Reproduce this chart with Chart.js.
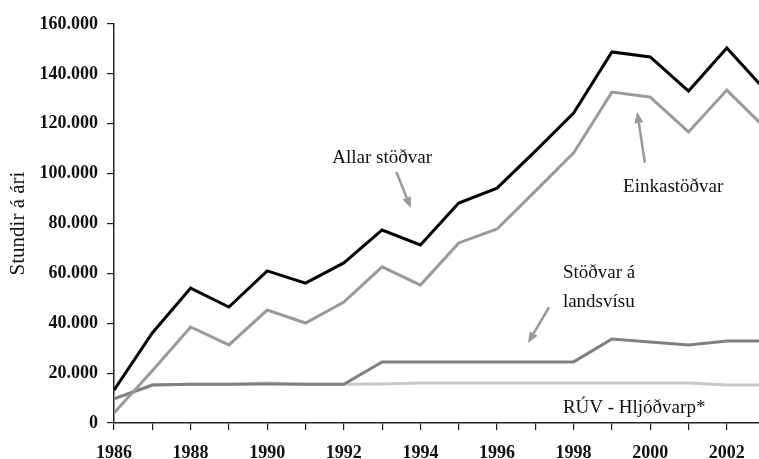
<!DOCTYPE html>
<html>
<head>
<meta charset="utf-8">
<script src="https://cdn.jsdelivr.net/npm/chart.js@4/dist/chart.umd.min.js"></script>
<style>
  html, body { margin: 0; padding: 0; background: #fff; overflow: hidden; }
  #wrap { width: 759px; height: 459px; position: relative; }
</style>
</head>
<body>
<div id="wrap"><canvas id="c" width="759" height="459"></canvas></div>
<script>
// ---- data ----
const years = [1986,1987,1988,1989,1990,1991,1992,1993,1994,1995,1996,1997,1998,1999,2000,2001,2002,2003];
const allarStodvar = [13200,36100,54100,46500,61000,56100,64200,77400,71400,88200,94200,109000,124300,148800,146800,133100,150400,133500];
const einkastodvar = [4000,21000,38500,31300,45300,40100,48500,62600,55300,72200,77800,93000,108300,132700,130700,116700,133500,118300];
const landsvisu    = [9700,15200,15500,15500,15600,15500,15500,24500,24500,24500,24500,24500,24500,33700,32500,31300,32900,32900];
const ruvHljodvarp = [9700,15200,15500,15500,16000,15500,15500,15600,16000,16000,16000,16000,16000,16000,16000,16000,15200,15200];
const yTicks = [0,20000,40000,60000,80000,100000,120000,140000,160000];
const xLabelYears = [1986,1988,1990,1992,1994,1996,1998,2000,2002];
const yTitle = 'Stundir á ári';

// annotations anchored in data coordinates
const notes = [
  { text: ['Allar stöðvar'], x: 1993.0, y: 104300, align: 'center' },
  { text: ['Einkastöðvar'], x: 2000.6, y: 92600, align: 'center' },
  { text: ['Stöðvar á', 'landsvísu'], x: 1997.72, y: 58100, align: 'left' },
  { text: ['RÚV - Hljóðvarp*'], x: 1997.72, y: 4000, align: 'left' }
];
const arrows = [
  { x0: 1993.37, y0: 100700, x1: 1993.75, y1: 86200 },
  { x0: 1999.86, y0: 104300, x1: 1999.66, y1: 124700 },
  { x0: 1997.36, y0: 46500, x1: 1996.81, y1: 32100 }
];

const pts = arr => years.map((yr, i) => ({ x: yr, y: arr[i] }));
const fmt = v => String(v).replace(/\B(?=(\d{3})+(?!\d))/g, '.');

const annotPlugin = {
  id: 'annot',
  afterDatasetsDraw(chart) {
    const { ctx, scales: { x, y } } = chart;
    ctx.save();
    ctx.fillStyle = '#111';
    ctx.font = '19px "Liberation Serif", serif';
    ctx.textBaseline = 'alphabetic';
    notes.forEach(n => {
      ctx.textAlign = n.align;
      const px = x.getPixelForValue(n.x);
      let py = y.getPixelForValue(n.y);
      n.text.forEach((t, i) => ctx.fillText(t, px, py + i * 29));
    });
    ctx.strokeStyle = '#999';
    ctx.fillStyle = '#999';
    ctx.lineWidth = 2.5;
    arrows.forEach(a => {
      const x0 = x.getPixelForValue(a.x0), y0 = y.getPixelForValue(a.y0);
      const x1 = x.getPixelForValue(a.x1), y1 = y.getPixelForValue(a.y1);
      const ang = Math.atan2(y1 - y0, x1 - x0);
      const hl = 11, hw = 4.5;
      const bx = x1 - hl * Math.cos(ang), by = y1 - hl * Math.sin(ang);
      ctx.beginPath(); ctx.moveTo(x0, y0); ctx.lineTo(bx, by); ctx.stroke();
      ctx.beginPath();
      ctx.moveTo(x1, y1);
      ctx.lineTo(bx + hw * Math.sin(ang), by - hw * Math.cos(ang));
      ctx.lineTo(bx - hw * Math.sin(ang), by + hw * Math.cos(ang));
      ctx.closePath(); ctx.fill();
    });
    ctx.restore();
  }
};

const ds = (label, arr, color) => ({
  label, data: pts(arr), borderColor: color, backgroundColor: color,
  borderWidth: 3, pointRadius: 0, tension: 0, borderJoinStyle: 'miter', fill: false
});

new Chart(document.getElementById('c'), {
  type: 'line',
  data: {
    datasets: [
      ds('Allar stöðvar', allarStodvar, '#000000'),
      ds('Einkastöðvar', einkastodvar, '#9a9a9a'),
      ds('Stöðvar á landsvísu', landsvisu, '#808080'),
      ds('RÚV - Hljóðvarp*', ruvHljodvarp, '#c8c8c8')
    ]
  },
  options: {
    responsive: false,
    animation: false,
    devicePixelRatio: 1,
    layout: { padding: { top: 24, left: 6, right: 0, bottom: 0 } },
    plugins: { legend: { display: false }, tooltip: { enabled: false } },
    scales: {
      x: {
        type: 'linear', min: 1986, max: 2002.84,
        afterFit(s) { s.height = 36; },
        grid: { display: true, drawOnChartArea: false, drawTicks: true, tickLength: 7, color: '#222', lineWidth: 1.2 },
        border: { display: true, color: '#222', width: 1.5 },
        ticks: {
          stepSize: 1, includeBounds: false, autoSkip: false, maxRotation: 0,
          color: '#111', padding: 13,
          font: { family: '"Liberation Serif", serif', size: 18, weight: 'bold' },
          callback: v => xLabelYears.includes(v) ? String(v) : ''
        }
      },
      y: {
        min: 0, max: 160000,
        afterFit(s) { s.width = 108; },
        afterBuildTicks(s) { s.ticks = yTicks.map(v => ({ value: v })); },
        grid: { display: true, drawOnChartArea: false, drawTicks: true, tickLength: 7, color: '#222', lineWidth: 1.2 },
        border: { display: true, color: '#222', width: 1.5 },
        title: { display: true, text: yTitle, color: '#111', padding: 0,
          font: { family: '"Liberation Serif", serif', size: 21 } },
        ticks: {
          color: '#111', padding: 9,
          font: { family: '"Liberation Serif", serif', size: 18, weight: 'bold' },
          callback: v => fmt(v)
        }
      }
    }
  },
  plugins: [annotPlugin]
});
</script>
</body>
</html>
